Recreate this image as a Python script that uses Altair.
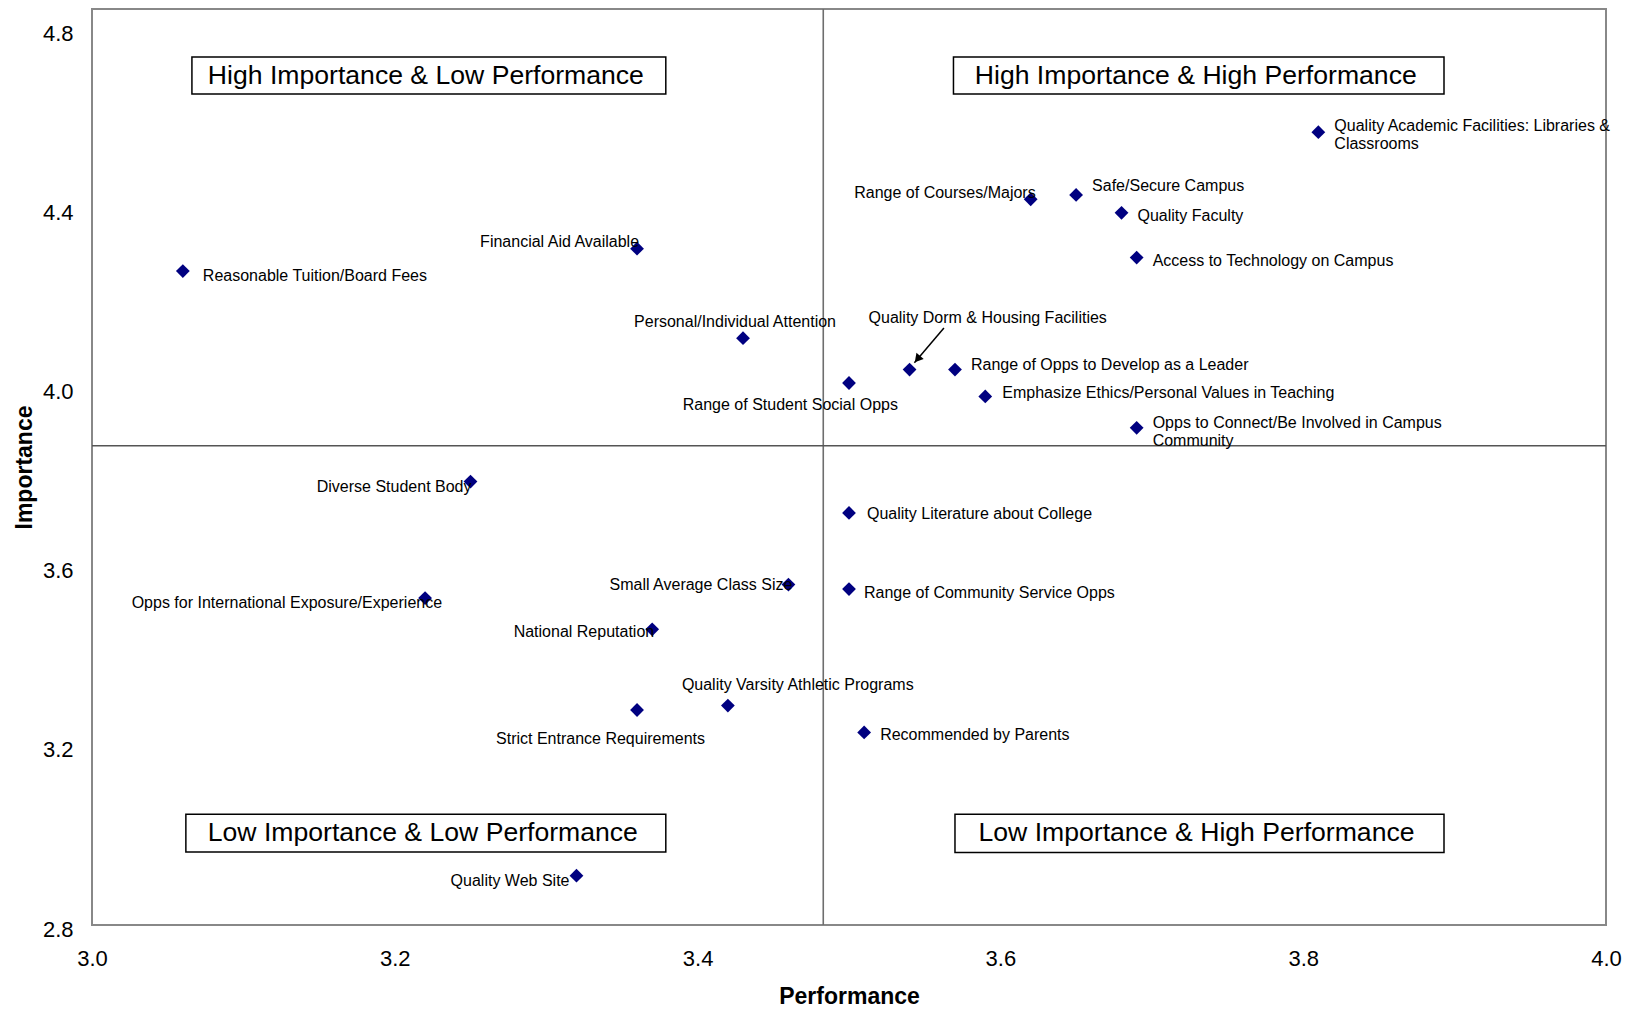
import altair as alt
import pandas as pd

# ---- data ----
items = [
    "Quality Academic Facilities: Libraries &\nClassrooms",
    "Safe/Secure Campus",
    "Range of Courses/Majors",
    "Quality Faculty",
    "Access to Technology on Campus",
    "Financial Aid Available",
    "Reasonable Tuition/Board Fees",
    "Personal/Individual Attention",
    "Range of Student Social Opps",
    "Quality Dorm & Housing Facilities",
    "Range of Opps to Develop as a Leader",
    "Emphasize Ethics/Personal Values in Teaching",
    "Opps to Connect/Be Involved in Campus\nCommunity",
    "Diverse Student Body",
    "Quality Literature about College",
    "Small Average Class Size",
    "Range of Community Service Opps",
    "Opps for International Exposure/Experience",
    "National Reputation",
    "Quality Varsity Athletic Programs",
    "Strict Entrance Requirements",
    "Recommended by Parents",
    "Quality Web Site",
]
performance = [3.81, 3.65, 3.62, 3.68, 3.69, 3.36, 3.06, 3.43, 3.50, 3.54, 3.57, 3.59,
               3.69, 3.25, 3.50, 3.46, 3.50, 3.22, 3.37, 3.42, 3.36, 3.51, 3.32]
importance = [4.57, 4.43, 4.42, 4.39, 4.29, 4.31, 4.26, 4.11, 4.01, 4.04, 4.04, 3.98,
              3.91, 3.79, 3.72, 3.56, 3.55, 3.53, 3.46, 3.29, 3.28, 3.23, 2.91]

x_ticks = [3.0, 3.2, 3.4, 3.6, 3.8, 4.0]
y_ticks = [2.8, 3.2, 3.6, 4.0, 4.4, 4.8]
perf_divider = 3.483
imp_divider = 3.870

quadrant_titles = ["High Importance & Low Performance", "High Importance & High Performance",
                   "Low Importance & Low Performance", "Low Importance & High Performance"]

# ---- layout / style (not data) ----
W, H = 1514, 916
X_DOM = [3.0, 4.0]
Y_DOM = [2.8, 4.845]
PX_X = W / (X_DOM[1] - X_DOM[0])
PX_Y = H / (Y_DOM[1] - Y_DOM[0])

# label anchor, pixel offset dx, dy from its point
label_layout = [
    ("left-top", 16, -14), ("left", 16, -9), ("right", 5, -6), ("left", 16, 3),
    ("left", 16, 3), ("right", 2, -7), ("left", 20, 5), ("center", -8, -16),
    ("right", 49, 22), ("left", -41, -52), ("left", 16, -5), ("left", 17, -3),
    ("left-top", 16, -13), ("right", 1, 5), ("left", 18, 1), ("right", 4, 0),
    ("left", 15, 4), ("right", 17, 5), ("right", 2, 3), ("left", -46, -21),
    ("left", -141, 29), ("left", 16, 3), ("right", -7, 5),
]

df = pd.DataFrame({
    "item": items,
    "perf": performance,
    "imp": importance,
    "anchor": [l[0] for l in label_layout],
    "dx": [l[1] for l in label_layout],
    "dy": [l[2] for l in label_layout],
})

# quadrant boxes (annotation placement in data units)
boxes = pd.DataFrame({
    "title": quadrant_titles,
    "x1": [3.066, 3.569, 3.062, 3.570],
    "x2": [3.379, 3.893, 3.379, 3.893],
    "y1": [4.655, 4.655, 2.963, 2.962],
    "y2": [4.738, 4.738, 3.047, 3.047],
})
boxes["xc"] = (boxes["x1"] + boxes["x2"]) / 2 - 3 / PX_X
boxes["yc"] = (boxes["y1"] + boxes["y2"]) / 2

arrow = pd.DataFrame({"x": [3.5627], "y": [4.133], "x2": [3.5432], "y2": [4.055],
                      "hx": [3.5452], "hy": [4.0635]})

FONT = "Liberation Sans"

xs = alt.Scale(domain=X_DOM, nice=False)
ys = alt.Scale(domain=Y_DOM, nice=False)

X = alt.X("perf:Q", scale=xs,
          axis=alt.Axis(values=x_ticks, format=".1f", title="Performance", labelFlush=False))
Y = alt.Y("imp:Q", scale=ys,
          axis=alt.Axis(values=y_ticks, format=".1f", title="Importance", labelFlush=False))

base = alt.Chart(df)

points = base.mark_point(shape="diamond", filled=True, size=190, color="#000080", opacity=1).encode(
    x=X, y=Y)

def label_layer(anchor, align, baseline):
    return base.transform_filter(alt.datum.anchor == anchor).transform_calculate(
        lx=f"datum.perf + datum.dx / {PX_X}",
        ly=f"datum.imp - datum.dy / {PX_Y}",
    ).mark_text(
        align=align, baseline=baseline, font=FONT, fontSize=16, color="black",
        lineBreak="\n", lineHeight=18,
    ).encode(
        x=alt.X("lx:Q", scale=xs),
        y=alt.Y("ly:Q", scale=ys),
        text="item:N",
    )

labels = (label_layer("left", "left", "middle")
          + label_layer("right", "right", "middle")
          + label_layer("center", "center", "middle")
          + label_layer("left-top", "left", "top"))

vline = alt.Chart(pd.DataFrame({"v": [perf_divider]})).mark_rule(
    color="#6e6e6e", strokeWidth=1.6).encode(x=alt.X("v:Q", scale=xs))
hline = alt.Chart(pd.DataFrame({"h": [imp_divider]})).mark_rule(
    color="#555555", strokeWidth=1.6).encode(y=alt.Y("h:Q", scale=ys))

box_rects = alt.Chart(boxes).mark_rect(fill="white", stroke="black", strokeWidth=1.5).encode(
    x=alt.X("x1:Q", scale=xs), x2="x2:Q",
    y=alt.Y("y1:Q", scale=ys), y2="y2:Q")
box_text = alt.Chart(boxes).mark_text(font=FONT, fontSize=26.6, color="black",
                                       align="center", baseline="middle").encode(
    x=alt.X("xc:Q", scale=xs), y=alt.Y("yc:Q", scale=ys), text="title:N")

arrow_line = alt.Chart(arrow).mark_rule(color="black", strokeWidth=1.5).encode(
    x=alt.X("x:Q", scale=xs), y=alt.Y("y:Q", scale=ys), x2="x2:Q", y2="y2:Q")
arrow_head = alt.Chart(arrow).mark_point(shape="triangle-up", filled=True, size=90,
                                         color="black", opacity=1, angle=220).encode(
    x=alt.X("hx:Q", scale=xs), y=alt.Y("hy:Q", scale=ys))

chart = alt.layer(
    vline, hline, box_rects, box_text, arrow_line, arrow_head, points, labels
).properties(
    width=W, height=H,
    autosize=alt.AutoSizeParams(type="none"),
    padding={"left": 84, "top": 1, "right": 18, "bottom": 86},
    background="white",
).configure_view(
    stroke="#888888", strokeWidth=2,
).configure_axis(
    grid=False, domain=False, ticks=False,
    labelFont=FONT, labelFontSize=22, labelColor="black",
    titleFont=FONT, titleFontSize=23, titleFontWeight="bold", titleColor="black",
).configure_axisX(
    labelPadding=23, titlePadding=16,
).configure_axisY(
    labelPadding=19, titlePadding=6, labelOffset=4,
)

chart.save("out.html", embed_options={"renderer": "svg", "actions": False})
